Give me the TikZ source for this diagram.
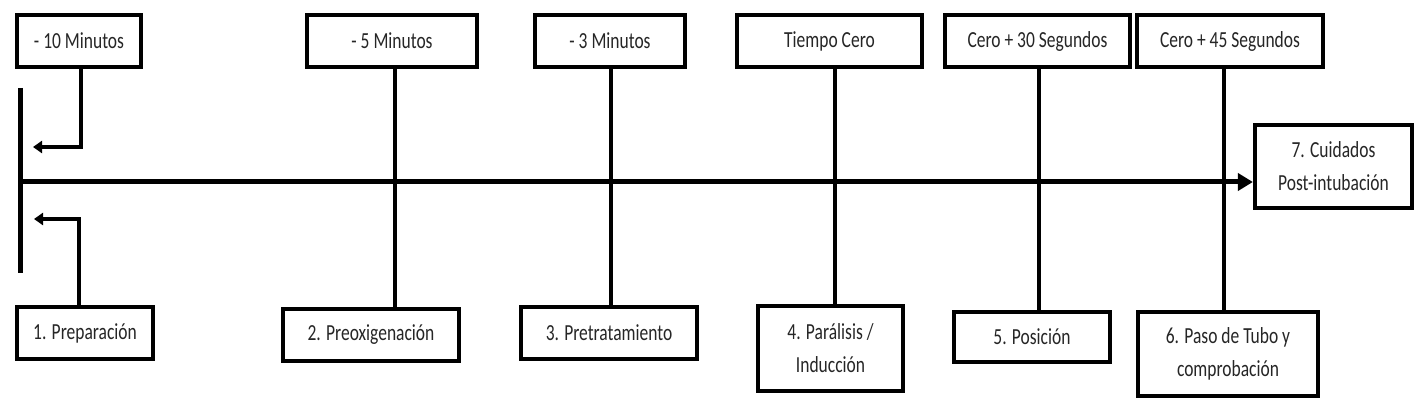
\documentclass[tikz,border=0pt]{standalone}
\usepackage{fontspec}
\newfontfamily\labfont[FakeStretch=0.76]{Carlito}
\usetikzlibrary{arrows.meta,calc}
\begin{document}
\begin{tikzpicture}[x=1pt,y=-1pt,
  box/.style={draw=black,line width=4.2pt,fill=white,inner sep=0pt,align=center,
    text=black!85,font=\labfont\fontsize{23}{33}\selectfont},
  link/.style={draw=black,line width=3.2pt},
  bigarrow/.style={draw=black,line width=5pt,-{Triangle[length=15pt,width=17pt]}},
  smallarrow/.style={draw=black,line width=3.2pt,-{Triangle[length=9pt,width=12pt]}}]
\useasboundingbox (0,0) rectangle (1419,406);
% top boxes
\node[box,minimum width=124pt,minimum height=52pt] (t1) at (79,41) {- 10 Minutos};
\node[box,minimum width=170pt,minimum height=52pt] (t2) at (392,41) {- 5 Minutos};
\node[box,minimum width=150pt,minimum height=52pt] (t3) at (610,41) {- 3 Minutos};
\node[box,minimum width=185pt,minimum height=52pt] (t4) at (829.5,41) {Tiempo Cero};
\node[box,minimum width=185pt,minimum height=52pt] (t5) at (1037.5,41) {Cero + 30 Segundos};
\node[box,minimum width=186pt,minimum height=52pt] (t6) at (1230,41) {Cero + 45 Segundos};
% bottom boxes
\node[box,minimum width=136pt,minimum height=52pt] (b1) at (85,333) {1. Preparación};
\node[box,minimum width=176pt,minimum height=52pt] (b2) at (371,335) {2. Preoxigenación};
\node[box,minimum width=176pt,minimum height=52pt] (b3) at (609,333) {3. Pretratamiento};
\node[box,minimum width=145pt,minimum height=85pt] (b4) at (830.5,348.5) {4. Parálisis /\\Inducción};
\node[box,minimum width=156pt,minimum height=50pt] (b5) at (1032,337) {5. Posición};
\node[box,minimum width=180pt,minimum height=84pt] (b6) at (1228,354) {6. Paso de Tubo y\\comprobación};
\node[box,minimum width=157pt,minimum height=83pt] (b7) at (1333.5,166.5) {7. Cuidados\\Post-intubación};
% timeline
\coordinate (bartop) at (20,88);
\coordinate (barbot) at (20,273);
\coordinate (axis) at (20,182);
\draw[draw=black,line width=5pt] (bartop) -- (barbot);
\draw[bigarrow] (axis) -- (axis -| b7.west);
% left arrows
\coordinate (a1) at (33,147);
\coordinate (a2) at (34,219);
\draw[smallarrow] ($(t1.south)+(2,0)$) |- (a1);
\draw[smallarrow] ($(b1.north)+(-6,0)$) |- (a2);
% verticals
\coordinate (v2) at (395,0);
\coordinate (v3) at (611,0);
\coordinate (v4) at (835,0);
\coordinate (v5) at (1039,0);
\coordinate (v6) at (1224,0);
\draw[link] (t2.south -| v2) -- (b2.north -| v2);
\draw[link] (t3.south -| v3) -- (b3.north -| v3);
\draw[link] (t4.south -| v4) -- (b4.north -| v4);
\draw[link] (t5.south -| v5) -- (b5.north -| v5);
\draw[link] (t6.south -| v6) -- (b6.north -| v6);
\end{tikzpicture}
\end{document}
